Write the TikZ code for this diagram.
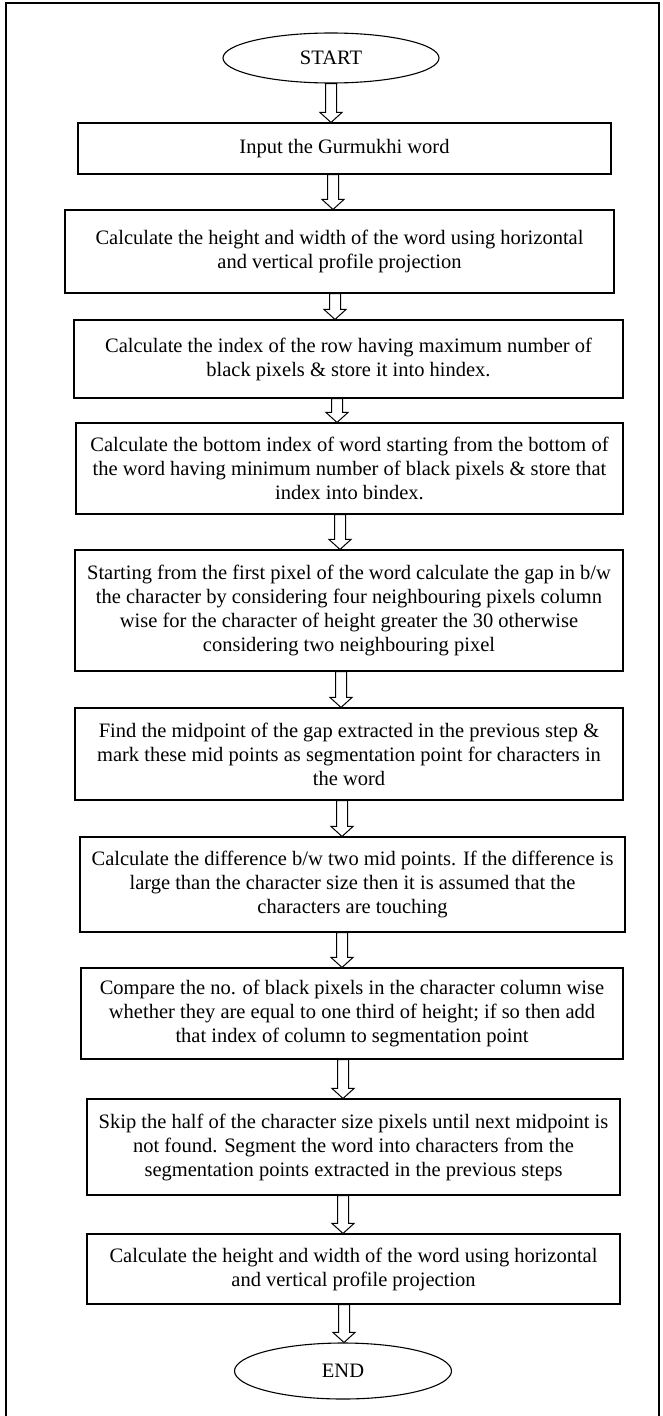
\documentclass[tikz,border=0pt]{standalone}
\usepackage{fontspec}
\setmainfont{Liberation Serif}
\usetikzlibrary{calc,shapes.geometric}
\newcommand{\hollowarr}[3]{%
  \draw[harrow] let \p1=(#1.south), \p2=(#2.north) in
    (#3pt-5.5pt,\y1) -- (#3pt-5.5pt,\y2+10pt) -- (#3pt-11pt,\y2+10pt) -- (#3pt,\y2)
    -- (#3pt+11pt,\y2+10pt) -- (#3pt+5.5pt,\y2+10pt) -- (#3pt+5.5pt,\y1) -- cycle;}
\begin{document}
\begin{tikzpicture}[x=1pt,y=-1pt,
  txt/.style={font=\fontsize{20.5}{24}\selectfont},
  stepbox/.style={draw, line width=1.1pt, align=center, inner sep=0pt, txt},
  term/.style={draw, ellipse, line width=1.1pt, inner sep=0pt, txt},
  harrow/.style={draw, line width=1pt, fill=white, line join=miter}]
\useasboundingbox (0,0) rectangle (662,1416);
\draw[line width=2pt] (6,1430) -- (6,3) -- (659,3) -- (659,1430);

\node[term, minimum width=216, minimum height=50] (start) at (331,58) {START};
\node[stepbox, minimum width=533, minimum height=51] (b1) at (344.5,148.5) {Input the Gurmukhi word};
\node[stepbox, minimum width=549, minimum height=83] (b2) at (339.5,251.5)
  {Calculate the height and width of the word using horizontal\\and vertical profile projection};
\node[stepbox, minimum width=549, minimum height=78] (b3) at (348.5,359)
  {Calculate the index of the row having maximum number of\\black pixels \& store it into hindex.};
\node[stepbox, minimum width=547, minimum height=91] (b4) at (349.5,468.5)
  {Calculate the bottom index of word starting from the bottom of\\the word having minimum number of black pixels \& store that\\index into bindex.};
\node[stepbox, minimum width=548, minimum height=121] (b5) at (349,610.5)
  {Starting from the first pixel of the word calculate the gap in b/w\\the character by considering four neighbouring pixels column\\wise for the character of height greater the 30 otherwise\\considering two neighbouring pixel};
\node[stepbox, minimum width=548, minimum height=92] (b6) at (349,754)
  {Find the midpoint of the gap extracted in the previous step \&\\mark these mid points as segmentation point for characters in\\the word};
\node[stepbox, minimum width=545, minimum height=95] (b7) at (352.5,884.5)
  {Calculate the difference b/w two mid points. If the difference is\\large than the character size then it is assumed that the\\characters are touching};
\node[stepbox, minimum width=542, minimum height=91] (b8) at (352,1013.5)
  {Compare the no. of black pixels in the character column wise\\whether they are equal to one third of height; if so then add\\that index of column to segmentation point};
\node[stepbox, minimum width=533, minimum height=96] (b9) at (353.5,1147)
  {Skip the half of the character size pixels until next midpoint is\\not found. Segment the word into characters from the\\segmentation points extracted in the previous steps};
\node[stepbox, minimum width=533, minimum height=70] (b10) at (353.5,1269)
  {Calculate the height and width of the word using horizontal\\and vertical profile projection};
\node[term, minimum width=217, minimum height=56] (end) at (343,1371) {END};

\hollowarr{start}{b1}{331}
\hollowarr{b1}{b2}{333}
\hollowarr{b2}{b3}{335}
\hollowarr{b3}{b4}{337}
\hollowarr{b4}{b5}{340}
\hollowarr{b5}{b6}{341}
\hollowarr{b6}{b7}{342}
\hollowarr{b7}{b8}{342}
\hollowarr{b8}{b9}{343}
\hollowarr{b9}{b10}{343}
\hollowarr{b10}{end}{344}
\end{tikzpicture}
\end{document}
